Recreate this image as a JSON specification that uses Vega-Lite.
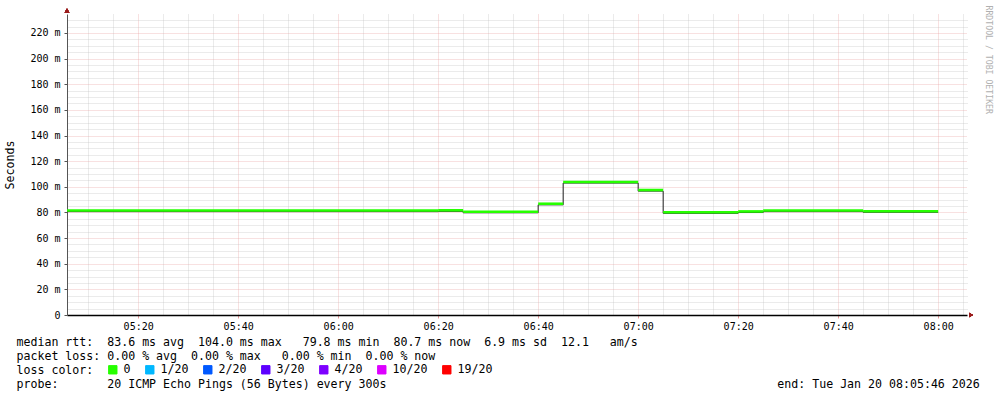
{
  "$schema": "https://vega.github.io/schema/vega-lite/v6.json",
  "width": 900,
  "height": 301,
  "autosize": {"type": "none"},
  "padding": {"left": 67, "top": 14, "right": 30, "bottom": 82},
  "background": "#ffffff",
  "config": {"view": {"stroke": null}},
  "data": {
    "values": [
      {"t": "2026-01-20T05:05:46", "t2": "2026-01-20T06:20:00", "median": 81.1, "loss": "0"},
      {"t": "2026-01-20T06:20:00", "t2": "2026-01-20T06:25:00", "median": 81.3, "loss": "0"},
      {"t": "2026-01-20T06:25:00", "t2": "2026-01-20T06:40:00", "median": 80.2, "loss": "0"},
      {"t": "2026-01-20T06:40:00", "t2": "2026-01-20T06:45:00", "median": 86.4, "loss": "0"},
      {"t": "2026-01-20T06:45:00", "t2": "2026-01-20T07:00:00", "median": 103.4, "loss": "0"},
      {"t": "2026-01-20T07:00:00", "t2": "2026-01-20T07:05:00", "median": 97.1, "loss": "0"},
      {"t": "2026-01-20T07:05:00", "t2": "2026-01-20T07:20:00", "median": 79.8, "loss": "0"},
      {"t": "2026-01-20T07:20:00", "t2": "2026-01-20T07:25:00", "median": 80.4, "loss": "0"},
      {"t": "2026-01-20T07:25:00", "t2": "2026-01-20T07:45:00", "median": 81.1, "loss": "0"},
      {"t": "2026-01-20T07:45:00", "t2": "2026-01-20T08:00:00", "median": 80.6, "loss": "0"}
    ],
    "format": {"parse": {"t": "date", "t2": "date"}}
  },
  "resolve": {"axis": {"x": "independent", "y": "independent"}},
  "layer": [
    {
      "transform": [{"fold": ["t", "t2"], "as": ["key", "time"]}],
      "mark": {"type": "line", "color": "#202020", "strokeWidth": 1, "yOffset": 0.6},
      "encoding": {
        "x": {
          "field": "time", "type": "temporal",
          "scale": {"domain": [{"year": 2026, "month": 1, "date": 20, "hours": 5, "minutes": 5, "seconds": 46}, {"year": 2026, "month": 1, "date": 20, "hours": 8, "minutes": 5, "seconds": 46}], "nice": false},
          "axis": {
            "orient": "bottom", "format": "%H:%M",
            "values": [
              {"year": 2026, "month": 1, "date": 20, "hours": 5, "minutes": 20},
              {"year": 2026, "month": 1, "date": 20, "hours": 5, "minutes": 40},
              {"year": 2026, "month": 1, "date": 20, "hours": 6, "minutes": 0},
              {"year": 2026, "month": 1, "date": 20, "hours": 6, "minutes": 20},
              {"year": 2026, "month": 1, "date": 20, "hours": 6, "minutes": 40},
              {"year": 2026, "month": 1, "date": 20, "hours": 7, "minutes": 0},
              {"year": 2026, "month": 1, "date": 20, "hours": 7, "minutes": 20},
              {"year": 2026, "month": 1, "date": 20, "hours": 7, "minutes": 40},
              {"year": 2026, "month": 1, "date": 20, "hours": 8, "minutes": 0}
            ],
            "grid": true, "gridColor": "#e79a9a", "gridDash": [1, 1], "gridOpacity": 0.6,
            "domain": true, "domainColor": "#000000", "domainWidth": 1.5,
            "ticks": true, "tickSize": 3, "tickColor": "#e79a9a",
            "labelFont": "DejaVu Sans Mono", "labelFontSize": 10, "labelColor": "#000000", "labelPadding": 3, "labelFlush": false, "labelOverlap": false,
            "title": [
              "median\u00a0rtt:\u00a0\u00a083.6\u00a0ms\u00a0avg\u00a0\u00a0104.0\u00a0ms\u00a0max\u00a0\u00a0\u00a079.8\u00a0ms\u00a0min\u00a0\u00a080.7\u00a0ms\u00a0now\u00a0\u00a06.9\u00a0ms\u00a0sd\u00a0\u00a012.1\u00a0\u00a0\u00a0am/s",
              "packet\u00a0loss:\u00a00.00\u00a0%\u00a0avg\u00a0\u00a00.00\u00a0%\u00a0max\u00a0\u00a0\u00a00.00\u00a0%\u00a0min\u00a0\u00a00.00\u00a0%\u00a0now",
              "loss\u00a0color:",
              "probe:\u00a0\u00a0\u00a0\u00a0\u00a0\u00a0\u00a020\u00a0ICMP\u00a0Echo\u00a0Pings\u00a0(56\u00a0Bytes)\u00a0every\u00a0300s\u00a0\u00a0\u00a0\u00a0\u00a0\u00a0\u00a0\u00a0\u00a0\u00a0\u00a0\u00a0\u00a0\u00a0\u00a0\u00a0\u00a0\u00a0\u00a0\u00a0\u00a0\u00a0\u00a0\u00a0\u00a0\u00a0\u00a0\u00a0\u00a0\u00a0\u00a0\u00a0\u00a0\u00a0\u00a0\u00a0\u00a0\u00a0\u00a0\u00a0\u00a0\u00a0\u00a0\u00a0\u00a0\u00a0\u00a0\u00a0\u00a0\u00a0\u00a0\u00a0\u00a0\u00a0\u00a0\u00a0end:\u00a0Tue\u00a0Jan\u00a020\u00a008:05:46\u00a02026"
            ],
            "titleFont": "DejaVu Sans Mono", "titleFontSize": 11.6, "titleFontWeight": "normal", "titleColor": "#000000",
            "titleLineHeight": 14, "titleAlign": "left", "titleAnchor": "start", "titleBaseline": "top", "titleX": -51, "titleY": 21
          }
        },
        "y": {
          "field": "median", "type": "quantitative",
          "scale": {"domain": [0, 234.8], "nice": false},
          "axis": {
            "orient": "left", "title": "Seconds",
            "values": [0, 20, 40, 60, 80, 100, 120, 140, 160, 180, 200, 220],
            "labelExpr": "datum.value == 0 ? '0' : datum.value + ' m'",
            "grid": true, "gridColor": "#e79a9a", "gridDash": [1, 1], "gridOpacity": 0.6,
            "domain": true, "domainColor": "#555555", "domainWidth": 1,
            "ticks": true, "tickSize": 3, "tickColor": "#555555",
            "labelFont": "DejaVu Sans Mono", "labelFontSize": 10, "labelColor": "#000000", "labelPadding": 4,
            "titleFont": "DejaVu Sans Mono", "titleFontSize": 11.6, "titleFontWeight": "normal", "titleColor": "#000000", "titlePadding": 14
          }
        },
        "order": [{"field": "time", "type": "temporal"}, {"field": "key", "type": "nominal", "sort": "descending"}]
      }
    },
    {
      "mark": {"type": "rule", "strokeWidth": 2.6, "strokeCap": "butt", "yOffset": -0.5},
      "encoding": {
        "x": {
          "field": "t", "type": "temporal",
          "axis": {
            "orient": "bottom", "title": null, "labels": false, "ticks": false, "domain": false,
            "values": [
              {"year": 2026, "month": 1, "date": 20, "hours": 5, "minutes": 10},
              {"year": 2026, "month": 1, "date": 20, "hours": 5, "minutes": 15},
              {"year": 2026, "month": 1, "date": 20, "hours": 5, "minutes": 25},
              {"year": 2026, "month": 1, "date": 20, "hours": 5, "minutes": 30},
              {"year": 2026, "month": 1, "date": 20, "hours": 5, "minutes": 35},
              {"year": 2026, "month": 1, "date": 20, "hours": 5, "minutes": 45},
              {"year": 2026, "month": 1, "date": 20, "hours": 5, "minutes": 50},
              {"year": 2026, "month": 1, "date": 20, "hours": 5, "minutes": 55},
              {"year": 2026, "month": 1, "date": 20, "hours": 6, "minutes": 5},
              {"year": 2026, "month": 1, "date": 20, "hours": 6, "minutes": 10},
              {"year": 2026, "month": 1, "date": 20, "hours": 6, "minutes": 15},
              {"year": 2026, "month": 1, "date": 20, "hours": 6, "minutes": 25},
              {"year": 2026, "month": 1, "date": 20, "hours": 6, "minutes": 30},
              {"year": 2026, "month": 1, "date": 20, "hours": 6, "minutes": 35},
              {"year": 2026, "month": 1, "date": 20, "hours": 6, "minutes": 45},
              {"year": 2026, "month": 1, "date": 20, "hours": 6, "minutes": 50},
              {"year": 2026, "month": 1, "date": 20, "hours": 6, "minutes": 55},
              {"year": 2026, "month": 1, "date": 20, "hours": 7, "minutes": 5},
              {"year": 2026, "month": 1, "date": 20, "hours": 7, "minutes": 10},
              {"year": 2026, "month": 1, "date": 20, "hours": 7, "minutes": 15},
              {"year": 2026, "month": 1, "date": 20, "hours": 7, "minutes": 25},
              {"year": 2026, "month": 1, "date": 20, "hours": 7, "minutes": 30},
              {"year": 2026, "month": 1, "date": 20, "hours": 7, "minutes": 35},
              {"year": 2026, "month": 1, "date": 20, "hours": 7, "minutes": 45},
              {"year": 2026, "month": 1, "date": 20, "hours": 7, "minutes": 50},
              {"year": 2026, "month": 1, "date": 20, "hours": 7, "minutes": 55},
              {"year": 2026, "month": 1, "date": 20, "hours": 8, "minutes": 5}
            ],
            "grid": true, "gridColor": "#bdbdbd", "gridDash": [1, 1], "gridOpacity": 0.6
          }
        },
        "x2": {"field": "t2"},
        "y": {
          "field": "median", "type": "quantitative",
          "axis": {
            "orient": "right", "labels": false, "ticks": false, "domain": false,
            "values": [5, 10, 15, 25, 30, 35, 45, 50, 55, 65, 70, 75, 85, 90, 95, 105, 110, 115, 125, 130, 135, 145, 150, 155, 165, 170, 175, 185, 190, 195, 205, 210, 215, 225, 230],
            "grid": true, "gridColor": "#bdbdbd", "gridDash": [1, 1], "gridOpacity": 0.6,
            "title": "RRDTOOL / TOBI OETIKER",
            "titleFont": "DejaVu Sans Mono", "titleFontSize": 8.2, "titleFontWeight": "normal", "titleColor": "#b0b0b0",
            "titleAngle": 90, "titleAlign": "left", "titleBaseline": "middle", "titleX": 20, "titleY": -9
          }
        },
        "color": {
          "field": "loss", "type": "nominal",
          "scale": {
            "domain": ["0", "1/20", "2/20", "3/20", "4/20", "10/20", "19/20"],
            "range": ["#26ff00", "#00b8ff", "#0059ff", "#5e00ff", "#7e00ff", "#dd00ff", "#ff0000"]
          },
          "legend": {
            "orient": "none", "legendX": 40, "legendY": 350, "direction": "horizontal", "title": null,
            "symbolType": "square", "symbolSize": 70, "symbolStrokeColor": "#000000", "symbolStrokeWidth": 1,
            "labelFont": "DejaVu Sans Mono", "labelFontSize": 11.6, "labelColor": "#000000", "labelOffset": 5,
            "columnPadding": 12, "padding": 0, "gridAlign": "none",
            "encode": {"symbols": {"update": {"fill": {"scale": "color", "field": "value"}, "stroke": {"value": "#000000"}, "strokeWidth": {"value": 1}, "opacity": {"value": 1}}}}
          }
        }
      }
    },
    {
      "mark": {"type": "point", "shape": "triangle-up", "filled": true, "color": "#9b1c1c", "size": 22, "opacity": 1},
      "encoding": {
        "x": {"datum": {"year": 2026, "month": 1, "date": 20, "hours": 5, "minutes": 5, "seconds": 46}, "type": "temporal", "axis": null},
        "y": {"datum": 237.5, "type": "quantitative", "axis": null}
      }
    },
    {
      "mark": {"type": "point", "shape": "triangle-right", "filled": true, "color": "#9b1c1c", "size": 22, "opacity": 1},
      "encoding": {
        "x": {"datum": {"year": 2026, "month": 1, "date": 20, "hours": 8, "minutes": 6, "seconds": 34}, "type": "temporal", "axis": null},
        "y": {"datum": 0, "type": "quantitative", "axis": null}
      }
    }
  ]
}
